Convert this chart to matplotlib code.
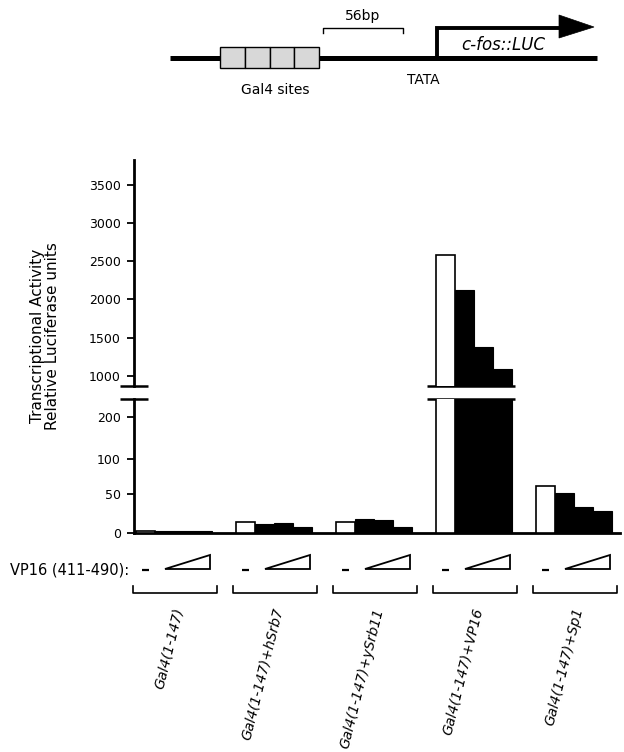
import numpy as np
import matplotlib
matplotlib.use("Agg")
import matplotlib.pyplot as plt
from matplotlib.patches import Rectangle, Polygon
from matplotlib.transforms import blended_transform_factory

# ---------------- data ----------------
groups = ["Gal4(1-147)", "Gal4(1-147)+hSrb7", "Gal4(1-147)+ySrb11",
          "Gal4(1-147)+VP16", "Gal4(1-147)+Sp1"]
no_vp16 = [2, 14.5, 14, 2580, 62]          # white bars (no VP16 411-490)
vp16_low = [3, 11, 17.5, 2125, 52]         # increasing VP16 (411-490)
vp16_mid = [3, 12.5, 17, 1380, 33]
vp16_high = [3, 8, 8, 1090, 28.5]
upper_ticks = [1000, 1500, 2000, 2500, 3000, 3500]
lower_ticks = [0, 50, 100, 200]
# the lower panel of the printed axis is not linear: tick value -> relative height
lower_scale_vals = [0, 50, 100, 200, 400]
lower_scale_pos = [0, 39, 74, 116, 200]

plt.rcParams['font.family'] = ['DejaVu Sans']

W, H = 624, 752
fig = plt.figure(figsize=(W / 100, H / 100), dpi=100)

# overlay axes in pixel coordinates for annotations / diagram
ov = fig.add_axes([0, 0, 1, 1])
ov.set_xlim(0, W)
ov.set_ylim(H, 0)
ov.axis('off')
ov.patch.set_alpha(0)

ax_left, ax_right = 134, 620
top_top, top_bot = 160, 386
low_top, low_bot = 399, 533


def fpos(l, r, t, b):
    return [l / W, 1 - b / H, (r - l) / W, (b - t) / H]


ax_top = fig.add_axes(fpos(ax_left, ax_right, top_top, top_bot))
ax_low = fig.add_axes(fpos(ax_left, ax_right, low_top, low_bot))

fwd = lambda v: np.interp(v, lower_scale_vals, lower_scale_pos)
inv = lambda p: np.interp(p, lower_scale_pos, lower_scale_vals)
ax_low.set_yscale('function', functions=(fwd, inv))

bw = 0.19
starts = np.arange(len(groups))
series = [no_vp16, vp16_low, vp16_mid, vp16_high]
for ax in (ax_top, ax_low):
    for k, vals in enumerate(series):
        x = starts + bw / 2 + k * bw
        if k == 0:
            ax.bar(x, vals, width=bw, facecolor='white', edgecolor='black',
                   linewidth=1.2, zorder=3)
        else:
            ax.bar(x, vals, width=bw, facecolor='black', edgecolor='black',
                   linewidth=0.8, zorder=3)
    ax.set_xlim(-0.02, 4.84)
    ax.spines['right'].set_visible(False)
    ax.spines['top'].set_visible(False)
    ax.spines['left'].set_linewidth(2.0)
    ax.tick_params(axis='y', direction='out', length=5, width=1.3,
                   pad=4.5, labelsize=9)
    ax.set_xticks([])
    ax.patch.set_alpha(0)

ax_top.spines['bottom'].set_visible(False)
ax_top.set_ylim(868, 3823)
ax_top.set_yticks(upper_ticks)
ax_top.set_yticklabels([str(t) for t in upper_ticks])

ax_low.set_ylim(0, 243)
ax_low.set_yticks(lower_ticks)
ax_low.set_yticklabels([str(t) for t in lower_ticks])
ax_low.yaxis.set_minor_locator(matplotlib.ticker.NullLocator())
ax_low.spines['bottom'].set_linewidth(2.0)

# break marks on y axis
for yy in (top_bot, low_top):
    ov.plot([ax_left - 14, ax_left + 14], [yy, yy], color='black', lw=1.8,
            solid_capstyle='butt')

# group-related annotations: x in data units, y in pixels
bt = blended_transform_factory(ax_low.transData, ov.transData)
vp_idx = 3
for yy in (top_bot, low_top):
    ov.plot([starts[vp_idx] - 0.09, starts[vp_idx] + 0.79], [yy, yy],
            color='black', lw=1.8, transform=bt, solid_capstyle='butt',
            zorder=5)

ov.text(10, 570, "VP16 (411-490):", fontsize=10.5, ha='left', va='center')
for i, name in enumerate(groups):
    s = starts[i]
    # minus sign
    ov.plot([s + 0.06, s + 0.13], [570, 570], color='black', lw=1.6,
            transform=bt, solid_capstyle='butt')
    # increasing triangle
    tri = Polygon([[s + 0.29, 569], [s + 0.74, 569], [s + 0.74, 555]],
                  closed=True, facecolor='white', edgecolor='black',
                  lw=1.3, transform=bt)
    ov.add_patch(tri)
    # bracket
    ov.plot([s - 0.03, s - 0.03, s + 0.81, s + 0.81], [586, 593, 593, 586],
            color='black', lw=1.2, transform=bt)
    ov.text(s + 0.43, 608, name, fontsize=10, style='italic', rotation=76,
            rotation_mode='anchor', ha='right', va='center', transform=bt)

ov.text(45, 336, "Transcriptional Activity\nRelative Luciferase units",
        rotation=90, fontsize=11, ha='center', va='center',
        multialignment='center', linespacing=1.05)

# ---------------- promoter diagram ----------------
ov.plot([170, 597], [58, 58], color='black', lw=3.6, solid_capstyle='butt')
box_l, box_r = 220, 319
nb = 4
bwid = (box_r - box_l) / nb
for j in range(nb):
    ov.add_patch(Rectangle((box_l + j * bwid, 47), bwid, 21,
                           facecolor='#d8d8d8', edgecolor='black', lw=1.0,
                           zorder=4))
ov.text(275, 90, "Gal4 sites", fontsize=10, ha='center', va='center')
ov.text(423, 80, "TATA", fontsize=10, ha='center', va='center')
ov.plot([323, 323, 403, 403], [33, 28, 28, 33], color='black', lw=1.0)
ov.text(363, 16, "56bp", fontsize=10, ha='center', va='center')
ov.plot([437, 437, 562], [57, 27.5, 27.5], color='black', lw=2.8,
        solid_joinstyle='miter')
ov.add_patch(Polygon([[559, 15], [594, 27], [559, 38]], closed=True,
                     facecolor='black', edgecolor='black', lw=0.5))
ov.text(503, 45, "c-fos::LUC", fontsize=12, style='italic', ha='center',
        va='center')

fig.savefig("out.png", dpi=100)
